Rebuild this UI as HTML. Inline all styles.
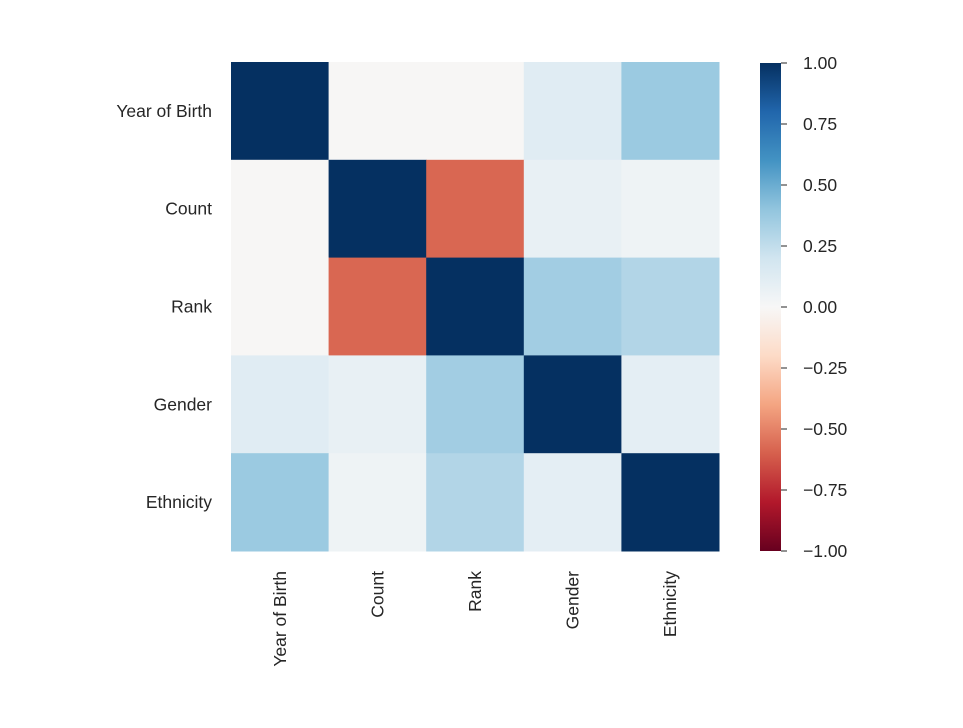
<!DOCTYPE html>
<html><head><meta charset="utf-8"><style>
body{margin:0;background:#fff;font-family:"Liberation Sans",Arial,sans-serif;}
svg text{font-family:"Liberation Sans",Arial,sans-serif;font-size:17.5px;fill:#262626;}
</style></head><body>
<svg id="chart" width="963" height="723">
<defs><linearGradient id="cbar" x1="0" y1="1" x2="0" y2="0">
<stop offset="0" stop-color="#67001f"/><stop offset="0.1" stop-color="#b2182b"/><stop offset="0.2" stop-color="#d6604d"/><stop offset="0.3" stop-color="#f4a582"/><stop offset="0.4" stop-color="#fddbc7"/><stop offset="0.5" stop-color="#f7f7f7"/><stop offset="0.6" stop-color="#d1e5f0"/><stop offset="0.7" stop-color="#92c5de"/><stop offset="0.8" stop-color="#4393c3"/><stop offset="0.9" stop-color="#2166ac"/><stop offset="1" stop-color="#053061"/>
</linearGradient></defs>
<g id="cells"></g><g id="labels"></g>
<rect x="760" y="63" width="21" height="488" fill="url(#cbar)"/>
<g id="cticks"></g>
</svg>
<script>
const categories=["Year of Birth","Count","Rank","Gender","Ethnicity"];
const matrix=[
[1,-0.01,-0.01,0.12,0.37],
[-0.01,1,-0.58,0.08,0.05],
[-0.01,-0.58,1,0.35,0.3],
[0.12,0.08,0.35,1,0.1],
[0.37,0.05,0.3,0.1,1]];
const cbarTicks=["1.00","0.75","0.50","0.25","0.00","−0.25","−0.50","−0.75","−1.00"];
const cbarTickValues=[1,0.75,0.5,0.25,0,-0.25,-0.5,-0.75,-1];
const stops=["#67001f","#b2182b","#d6604d","#f4a582","#fddbc7","#f7f7f7","#d1e5f0","#92c5de","#4393c3","#2166ac","#053061"];
function hex(h){return [1,3,5].map(i=>parseInt(h.substr(i,2),16));}
function color(v){let t=(v+1)/2*10;t=Math.max(0,Math.min(10,t));let i=Math.min(9,Math.floor(t));let f=t-i;const a=hex(stops[i]),b=hex(stops[i+1]);return `rgb(${a.map((c,k)=>Math.round(c+(b[k]-c)*f)).join(',')})`;}
const X0=231,Y0=62,W=488,H=489,n=categories.length;
const cw=W/n,ch=H/n;
const xs=i=>X0+i*cw, ys=j=>Y0+j*ch;
const NS="http://www.w3.org/2000/svg";
const cells=document.getElementById('cells'),labels=document.getElementById('labels');
matrix.forEach((row,j)=>row.forEach((v,i)=>{
 const r=document.createElementNS(NS,'rect');
 r.setAttribute('x',xs(i));r.setAttribute('y',ys(j));r.setAttribute('width',cw+0.5);r.setAttribute('height',ch+0.5);r.setAttribute('fill',color(v));
 
 
 cells.appendChild(r);
}));
categories.forEach((c,k)=>{
 const t=document.createElementNS(NS,'text');
 t.setAttribute('x',X0-19);t.setAttribute('y',ys(k)+ch/2+6);t.setAttribute('text-anchor','end');t.textContent=c;
 
 
 labels.appendChild(t);
 const tx=document.createElementNS(NS,'text');
 const cx=xs(k)+cw/2+6,cy=Y0+H+20;
 tx.setAttribute('x',cx);tx.setAttribute('y',cy);tx.setAttribute('text-anchor','end');tx.setAttribute('transform',`rotate(-90 ${cx} ${cy})`);tx.textContent=c;
 
 
 labels.appendChild(tx);
});
const ct=document.getElementById('cticks');
const cy=v=>63+(1-v)/2*488;
cbarTickValues.forEach((v,k)=>{
 const l=document.createElementNS(NS,'line');
 l.setAttribute('x1',781);l.setAttribute('x2',787);l.setAttribute('y1',cy(v));l.setAttribute('y2',cy(v));l.setAttribute('stroke','#262626');
 
 
 ct.appendChild(l);
 const t=document.createElementNS(NS,'text');
 t.setAttribute('x',803);t.setAttribute('y',cy(v)+6);t.textContent=cbarTicks[k];
 
 
 ct.appendChild(t);
});
</script>
</body></html>
